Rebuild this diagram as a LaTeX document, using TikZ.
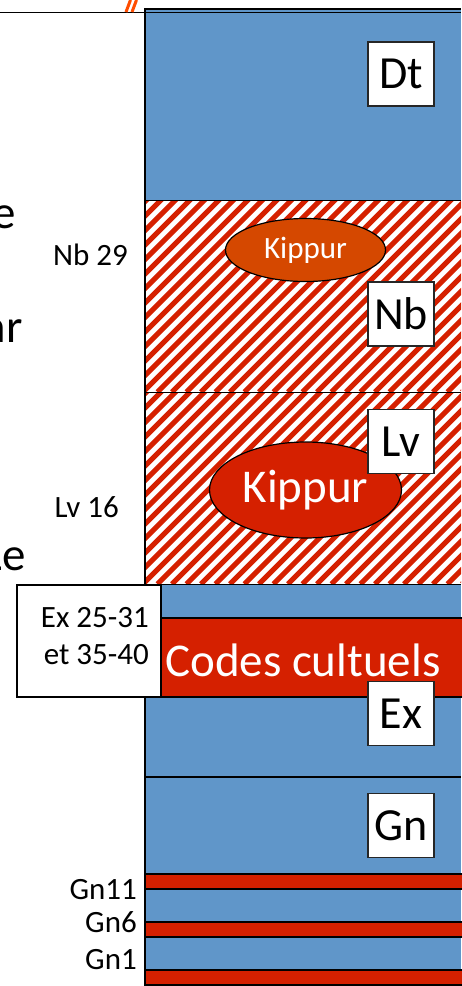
\documentclass[tikz,border=0pt]{standalone}
\usepackage{fontspec}
\setmainfont{Carlito}
\usetikzlibrary{shapes.geometric}
\definecolor{cblue}{RGB}{96,150,201}
\definecolor{cred}{RGB}{213,32,0}
\definecolor{corange}{RGB}{213,72,0}
\definecolor{cslash}{RGB}{255,77,0}
\tikzset{
  lbl/.style={font=\fontsize{31}{38}\selectfont, inner sep=0pt},
  biglbl/.style={font=\fontsize{47}{56}\selectfont, inner sep=0pt},
  bookbox/.style={draw=black!85, line width=1.5pt, fill=white, minimum width=66pt, minimum height=64pt, inner sep=0pt, font=\fontsize{46}{55}\selectfont},
  kip/.style={ellipse, draw=black, line width=1.2pt, text=white, inner sep=0pt},
  sepline/.style={line width=1.5pt, black},
  band/.style={fill=cred, draw=black, line width=1.5pt},
}
\begin{document}
\begin{tikzpicture}[x=1pt,y=-1pt]
\useasboundingbox (0,0) rectangle (461,986);
% backgrounds
\fill[cblue] (145,9) rectangle (461,200);
\fill[white] (145,200) rectangle (461,585);
\fill[cblue] (145,585) rectangle (461,986);
% hatching
\foreach \ya/\yb in {201/392, 393/584}{
  \begin{scope}
    \clip (145,\ya) rectangle (461,\yb);
    \foreach \a in {-60,-45.5,...,470}{
      \draw[cred, line width=5pt] (\a,\yb) -- ++(200,-200);
    }
  \end{scope}
}
% red bands
\draw[band] (145,618) rectangle (470,697);
\draw[band] (145,874) rectangle (470,889);
\draw[band] (145,922) rectangle (470,937);
\draw[band] (145,970) rectangle (470,985);
% separators
\draw[sepline] (145,200.5) -- (461,200.5);
\draw[sepline] (145,392.5) -- (461,392.5);
\draw[sepline] (145,584.5) -- (461,584.5);
\draw[sepline] (145,777) -- (461,777);
% left edge of column
\draw[line width=2pt] (145,8) -- (145,986);
% top lines
\draw[line width=2.5pt] (144,9) -- (461,9);
\draw[line width=1.5pt] (0,12.5) -- (461,12.5);
% slashes
\draw[cslash, line width=3pt] (126,12) -- (130.5,0);
\draw[cslash, line width=3pt] (132,12) -- (136.5,0);
% ellipses
\node[kip, fill=corange, minimum width=160pt, minimum height=63pt, font=\fontsize{31}{38}\selectfont] (kipnb) at (305.5,250) {Kippur};
\node[kip, fill=cred, minimum width=192pt, minimum height=96pt, font=\fontsize{47}{56}\selectfont] (kiplv) at (305.5,490) {Kippur};
% codes cultuels
\node[biglbl, text=white, anchor=base west] (codes) at (165,676) {Codes cultuels};
% book boxes
\node[bookbox] (dt) at (401,74) {Dt};
\node[bookbox] (nb) at (401,314) {Nb};
\node[bookbox] (lv) at (401,441.5) {Lv};
\node[bookbox] (ex) at (401,713.5) {Ex};
\node[bookbox] (gn) at (401,825.5) {Gn};
% reference box Ex
\node[draw=black, line width=1.5pt, fill=white, minimum width=144pt, minimum height=112pt, inner sep=0pt] (exref) at (89,641) {};
\node[lbl, anchor=base east] (exa) at (149,627) {Ex 25-31};
\node[lbl, anchor=base east] (exb) at (149,664) {et 35-40};
% left labels
\node[lbl, anchor=base east] (nb29) at (128,265) {Nb 29};
\node[lbl, anchor=base east] (lv16) at (119,517) {Lv 16};
\node[lbl, anchor=base east] (gn11) at (137,899) {Gn11};
\node[lbl, anchor=base east] (gn6) at (137,932) {Gn6};
\node[lbl, anchor=base east] (gn1) at (137,969) {Gn1};
% cut-off fragments at the left edge
\node[biglbl, anchor=base east] (fre) at (16,228) {e};
\node[biglbl, anchor=base east] (frar) at (23,342) {ar};
\node[biglbl, anchor=base east] (frle) at (26,570) {Le};
\end{tikzpicture}
\end{document}
